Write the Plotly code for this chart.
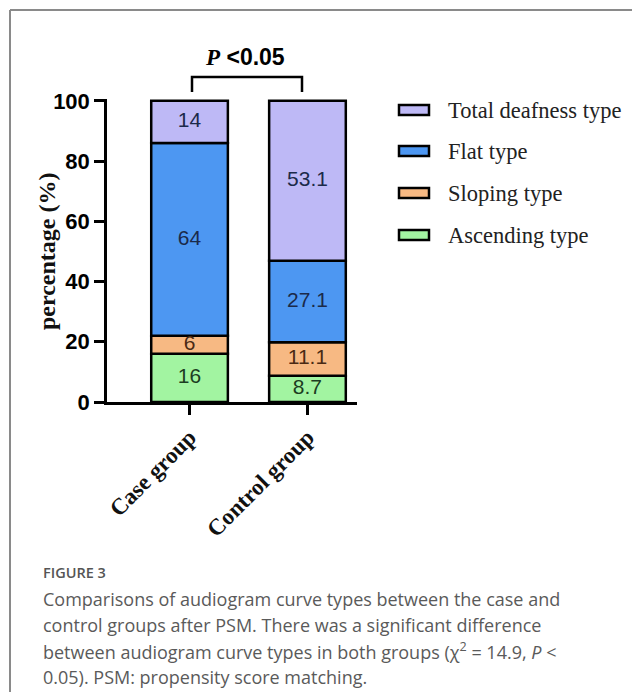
import plotly.graph_objects as go

categories = ["Case group", "Control group"]
series_names = ["Ascending type", "Sloping type", "Flat type", "Total deafness type"]
ascending = [16, 8.7]
sloping = [6, 11.1]
flat = [64, 27.1]
total = [14, 53.1]
value_labels = {
    "Ascending type": ["16", "8.7"],
    "Sloping type": ["6", "11.1"],
    "Flat type": ["64", "27.1"],
    "Total deafness type": ["14", "53.1"],
}
y_ticks = [0, 20, 40, 60, 80, 100]

values = {"Ascending type": ascending, "Sloping type": sloping,
          "Flat type": flat, "Total deafness type": total}
fills = {"Ascending type": "#A2F4A1", "Sloping type": "#F7B983",
         "Flat type": "#4D97F2", "Total deafness type": "#BEB9F6"}
text_colors = {"Ascending type": "#1c3d22", "Sloping type": "#4a2a14",
               "Flat type": "#1b2a4a", "Total deafness type": "#1b2a4a"}

# page has an 8px body margin; work in reference-pixel coordinates
OFF = 8
W, H = 632, 684
L, T = 107 - OFF, 99 - OFF
R = W - (357 - OFF)
B = H - (402 - OFF)
PW, PH = W - L - R, H - T - B


def px(x):
    return (x - OFF - L) / PW


def py(y):
    return (H - B - (y - OFF)) / PH


fig = go.Figure()

base = [0.0, 0.0]
for name in series_names:
    vals = values[name]
    fig.add_trace(go.Bar(
        x=categories, y=vals, base=base[:], name=name,
        marker=dict(color=fills[name], line=dict(color="black", width=2.5)),
        width=0.65, showlegend=False, hoverinfo="skip",
    ))
    mids = [b + v / 2 for b, v in zip(base, vals)]
    fig.add_trace(go.Scatter(
        x=categories, y=mids, mode="text", text=value_labels[name],
        textfont=dict(family="Liberation Sans, Arial", size=21, color=text_colors[name]),
        showlegend=False, hoverinfo="skip", cliponaxis=False,
    ))
    base = [b + v for b, v in zip(base, vals)]

shapes = []
annotations = []

# frame border (top and left)
shapes.append(dict(type="line", xref="paper", yref="paper", x0=px(10), x1=px(700),
                   y0=py(10), y1=py(10), line=dict(color="#8a8a8a", width=2)))
shapes.append(dict(type="line", xref="paper", yref="paper", x0=px(10), x1=px(10),
                   y0=py(10), y1=py(720), line=dict(color="#8a8a8a", width=2)))

# significance bracket
shapes.append(dict(type="path", xref="paper", yref="paper",
                   path=f"M {px(192)} {py(92)} L {px(192)} {py(77)} L {px(302)} {py(77)} L {px(302)} {py(92)}",
                   line=dict(color="black", width=2.5)))
annotations.append(dict(xref="paper", yref="paper", x=px(245), y=py(57),
                        text="<i><b><span style='font-family:Liberation Serif'>P</span></b></i> <b>&lt;0.05</b>",
                        showarrow=False, xanchor="center", yanchor="middle",
                        font=dict(family="Liberation Sans, Arial", size=23, color="black")))

# legend
legend_rows = [110, 151, 193, 235]
for name, yy in zip(series_names[::-1], legend_rows):
    shapes.append(dict(type="rect", xref="paper", yref="paper",
                       x0=px(399), x1=px(429), y0=py(yy - 5), y1=py(yy + 5),
                       fillcolor=fills[name], line=dict(color="black", width=2.5)))
    annotations.append(dict(xref="paper", yref="paper", x=px(446), y=py(yy),
                            text=name, showarrow=False, xanchor="left", yanchor="middle",
                            font=dict(family="Liberation Serif, Times New Roman", size=22.5, color="#222")))

# y-axis title
annotations.append(dict(xref="paper", yref="paper", x=px(47), y=py(251),
                        text="<b>percentage (%)</b>", textangle=-90, showarrow=False,
                        xanchor="center", yanchor="middle",
                        font=dict(family="Liberation Serif, Times New Roman", size=24, color="#111")))

# caption
annotations.append(dict(xref="paper", yref="paper", x=px(41), y=py(572),
                        text="FIGURE 3", showarrow=False, xanchor="left", yanchor="middle",
                        font=dict(family="Open Sans", size=14.5, color="#555", weight=600)))
caption_lines = [
    "Comparisons of audiogram curve types between the case and",
    "control groups after PSM. There was a significant difference",
    "between audiogram curve types in both groups (χ<sup>2</sup> = 14.9, <i>P</i> &lt;",
    "0.05). PSM: propensity score matching.",
]
for i, line in enumerate(caption_lines):
    annotations.append(dict(xref="paper", yref="paper", x=px(41), y=py(599 + i * 26),
                            text=line, showarrow=False, xanchor="left", yanchor="middle",
                            font=dict(family="Open Sans", size=18, color="#5a5a5a")))

fig.update_layout(
    width=W, height=H,
    margin=dict(l=L, r=R, t=T, b=B),
    paper_bgcolor="white", plot_bgcolor="white",
    barmode="overlay",
    shapes=shapes, annotations=annotations,
    showlegend=False,
)
fig.update_xaxes(
    range=[-0.7, 1.42], showgrid=False, zeroline=False,
    showline=True, linecolor="black", linewidth=2.5,
    ticks="outside", ticklen=10, tickwidth=2.5, tickcolor="black",
    tickangle=-45,
    tickfont=dict(family="Liberation Serif, Times New Roman", size=23, color="#111", weight="bold"),
)
fig.update_yaxes(
    range=[0, 100.6], tickvals=y_ticks, showgrid=False, zeroline=False,
    showline=True, linecolor="black", linewidth=2.5,
    ticks="outside", ticklen=10, tickwidth=2.5, tickcolor="black",
    tickfont=dict(family="Liberation Sans, Arial", size=22, color="black", weight="bold"),
)

fig.write_html("out.html")
